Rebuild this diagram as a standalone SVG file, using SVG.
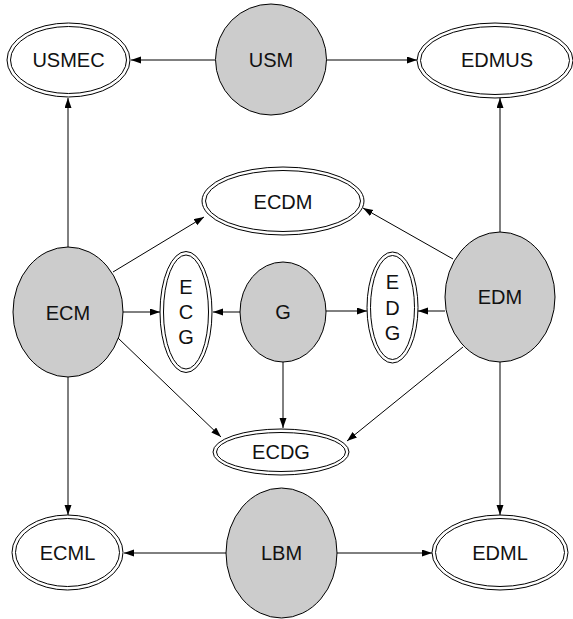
<svg xmlns="http://www.w3.org/2000/svg" width="573" height="619" viewBox="0 0 573 619">
  <defs>
    <marker id="arrow" markerUnits="userSpaceOnUse" markerWidth="11" markerHeight="8" refX="10" refY="3.5" orient="auto">
      <path d="M0,0 L10,3.5 L0,7 z" fill="#000"/>
    </marker>
  </defs>
  <style>
    .bg { fill: #fff; }
    .proc { fill: #cccccc; stroke: #000; stroke-width: 1; }
    .store { fill: #fff; stroke: #000; stroke-width: 1; }
    .label { font-family: "Liberation Sans", Arial, sans-serif; font-size: 20px; fill: #111; text-anchor: middle; dominant-baseline: central; }
    .edge { stroke: #000; stroke-width: 1; fill: none; marker-end: url(#arrow); }
  </style>
  <rect class="bg" width="573" height="619"/>

  <!-- connectors -->
  <g id="connectors">
    <line class="edge" x1="215" y1="60" x2="131" y2="60"/>
    <line class="edge" x1="326" y1="60" x2="417" y2="60"/>
    <line class="edge" x1="68" y1="247" x2="68" y2="98"/>
    <line class="edge" x1="113" y1="272" x2="204" y2="217"/>
    <line class="edge" x1="123" y1="312" x2="160" y2="312"/>
    <line class="edge" x1="118" y1="338" x2="221" y2="437"/>
    <line class="edge" x1="68" y1="377" x2="68" y2="515"/>
    <line class="edge" x1="240" y1="312" x2="213" y2="312"/>
    <line class="edge" x1="326" y1="311" x2="367" y2="311"/>
    <line class="edge" x1="283" y1="362" x2="283" y2="428"/>
    <line class="edge" x1="500" y1="232" x2="500" y2="98"/>
    <line class="edge" x1="453" y1="259" x2="363" y2="208"/>
    <line class="edge" x1="445" y1="311" x2="418" y2="311"/>
    <line class="edge" x1="463" y1="347" x2="347" y2="441"/>
    <line class="edge" x1="500" y1="362" x2="500" y2="515"/>
    <line class="edge" x1="226" y1="553" x2="124" y2="553"/>
    <line class="edge" x1="337" y1="553" x2="432" y2="553"/>
  </g>

  <!-- top row -->
  <g id="USMEC">
    <ellipse class="store" cx="68.5" cy="60" rx="61.5" ry="37"/>
    <ellipse class="store" cx="68.5" cy="60" rx="58" ry="33.5"/>
    <text class="label" x="68.5" y="60">USMEC</text>
  </g>
  <g id="USM">
    <ellipse class="proc" cx="271" cy="59.5" rx="55.5" ry="55.5"/>
    <text class="label" x="271" y="60">USM</text>
  </g>
  <g id="EDMUS">
    <ellipse class="store" cx="495" cy="60.5" rx="78" ry="37.5"/>
    <ellipse class="store" cx="495" cy="60.5" rx="74.5" ry="34"/>
    <text class="label" x="497" y="60">EDMUS</text>
  </g>

  <!-- middle -->
  <g id="ECDM">
    <ellipse class="store" cx="283" cy="201" rx="81" ry="34"/>
    <ellipse class="store" cx="283" cy="201" rx="77.5" ry="30.5"/>
    <text class="label" x="283" y="202">ECDM</text>
  </g>
  <g id="ECM">
    <ellipse class="proc" cx="68" cy="312" rx="55" ry="65"/>
    <text class="label" x="68" y="313">ECM</text>
  </g>
  <g id="ECG">
    <ellipse class="store" cx="186" cy="312" rx="26" ry="60.5"/>
    <ellipse class="store" cx="186" cy="312" rx="22.5" ry="57"/>
    <text class="label" x="186" y="287">E</text>
    <text class="label" x="186" y="312">C</text>
    <text class="label" x="186" y="337">G</text>
  </g>
  <g id="G">
    <ellipse class="proc" cx="283" cy="312" rx="43" ry="50"/>
    <text class="label" x="283" y="312">G</text>
  </g>
  <g id="EDG">
    <ellipse class="store" cx="392.5" cy="307.5" rx="25.5" ry="55.5"/>
    <ellipse class="store" cx="392.5" cy="307.5" rx="22" ry="52"/>
    <text class="label" x="392.5" y="282">E</text>
    <text class="label" x="392.5" y="308">D</text>
    <text class="label" x="392.5" y="333">G</text>
  </g>
  <g id="EDM">
    <ellipse class="proc" cx="500" cy="297" rx="55" ry="65"/>
    <text class="label" x="500" y="297">EDM</text>
  </g>
  <g id="ECDG">
    <ellipse class="store" cx="281" cy="452" rx="68" ry="23"/>
    <ellipse class="store" cx="281" cy="452" rx="64.5" ry="19.5"/>
    <text class="label" x="281" y="452">ECDG</text>
  </g>

  <!-- bottom row -->
  <g id="ECML">
    <ellipse class="store" cx="67.5" cy="552.5" rx="55.5" ry="37.5"/>
    <ellipse class="store" cx="67.5" cy="552.5" rx="52" ry="34"/>
    <text class="label" x="67.5" y="553">ECML</text>
  </g>
  <g id="LBM">
    <ellipse class="proc" cx="281.5" cy="553" rx="55.5" ry="65"/>
    <text class="label" x="281.5" y="553">LBM</text>
  </g>
  <g id="EDML">
    <ellipse class="store" cx="500" cy="552.5" rx="68" ry="37.5"/>
    <ellipse class="store" cx="500" cy="552.5" rx="64.5" ry="34"/>
    <text class="label" x="500" y="553">EDML</text>
  </g>
</svg>
